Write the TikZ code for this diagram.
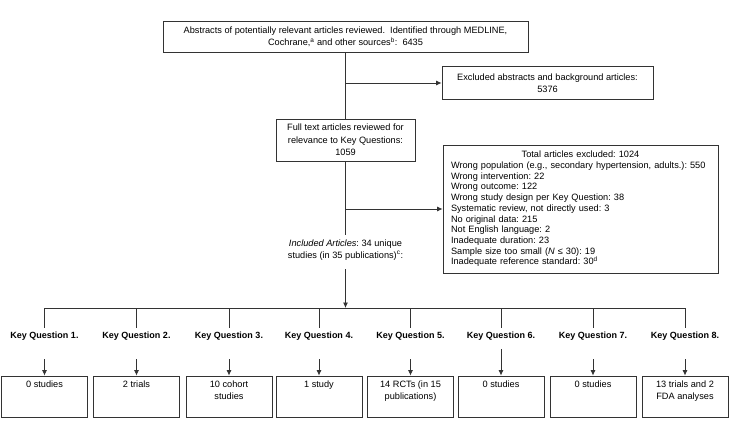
\documentclass[tikz,border=0pt]{standalone}
\usepackage{fontspec}
\setmainfont{Liberation Sans}
\usetikzlibrary{arrows.meta}
\begin{document}
\frenchspacing
\begin{tikzpicture}[x=1pt,y=-1pt,
  ln/.style={draw=black!80, line width=0.8pt},
  arr/.style={ln, -{Latex[length=5.5pt,width=5pt]}},
  box/.style={ln, inner sep=1pt, align=center, font=\fontsize{9.2}{12.3}\selectfont},
  kq/.style={font=\bfseries\fontsize{9}{10}\selectfont, inner sep=4pt},
  kbox/.style={ln, minimum width=86pt, minimum height=41pt, inner sep=0pt},
  ktext/.style={anchor=north, inner sep=5pt, align=center, font=\fontsize{9.2}{12}\selectfont}]
\useasboundingbox (0,0) rectangle (750,424);

\node[box, minimum width=365pt, minimum height=31pt] (top) at (345.5,37)
  {Abstracts of potentially relevant articles reviewed.\ \ Identified through MEDLINE,\\
   Cochrane,\textsuperscript{a} and other sources\textsuperscript{b}:\ \ 6435};
\node[box, minimum width=211pt, minimum height=33pt] (exa) at (547.5,83)
  {Excluded abstracts and background articles:\\ 5376};
\node[box, minimum width=139pt, minimum height=42pt] (ft) at (345.5,140)
  {Full text articles reviewed for\\ relevance to Key Questions:\\ 1059};
\node[ln, minimum width=275pt, minimum height=128pt, text width=265pt, inner xsep=5pt, inner ysep=4pt,
  font=\fontsize{9.2}{10.7}\selectfont] (exb) at (580.5,209)
  {\centering Total articles excluded: 1024\par
   \raggedright\leftskip=3pt Wrong population (e.g., secondary hypertension, adults.): 550\\
   Wrong intervention: 22\\
   Wrong outcome: 122\\
   Wrong study design per Key Question: 38\\
   Systematic review, not directly used: 3\\
   No original data: 215\\
   Not English language: 2\\
   Inadequate duration: 23\\
   Sample size too small (\textit{N} ≤ 30): 19\\
   Inadequate reference standard: 30\textsuperscript{d}\par};
\node[align=center, inner sep=5pt, font=\fontsize{9.2}{12}\selectfont] (inc) at (345.5,250)
  {\textit{Included Articles}: 34 unique\\ studies (in 35 publications)\textsuperscript{c}:};

\coordinate (hl) at (345.5,308);

\draw[ln] (top.south) -- (ft.north);
\draw[arr] (top.south |- exa.west) -- (exa.west);
\draw[ln] (ft.south) -- (inc.north);
\draw[arr] (ft.south |- exb.west) -- (exb.west);
\draw[arr, shorten <=4pt] (inc.south) -- (hl);

\foreach \i/\x/\t in {1/44.5/{0 studies},2/136.5/{2 trials},3/229/{10 cohort\\ studies},4/319/{1 study},
  5/410.5/{14 RCTs (in 15\\ publications)},6/501/{0 studies},7/593/{0 studies},8/685/{13 trials and 2\\ FDA analyses}}{
  \node[kq] (kq\i) at (\x,336) {Key Question \i.};
  \node[kbox] (kb\i) at (\x,396.5) {};
  \node[ktext] (kt\i) at (kb\i.north) {\t};
}
\draw[ln] (kq1.north |- hl) -- (kq8.north |- hl);
\foreach \i in {1,...,8}{
  \draw[ln] (kq\i.north |- hl) -- (kq\i.north);
}
\foreach \i in {1,2,3,4,5,7,8}{
  \draw[arr, shorten <=15pt] (kq\i.south) -- (kb\i.north);
}
\draw[arr, shorten <=5pt] (kq6.south) -- (kb6.north);
\end{tikzpicture}
\end{document}
